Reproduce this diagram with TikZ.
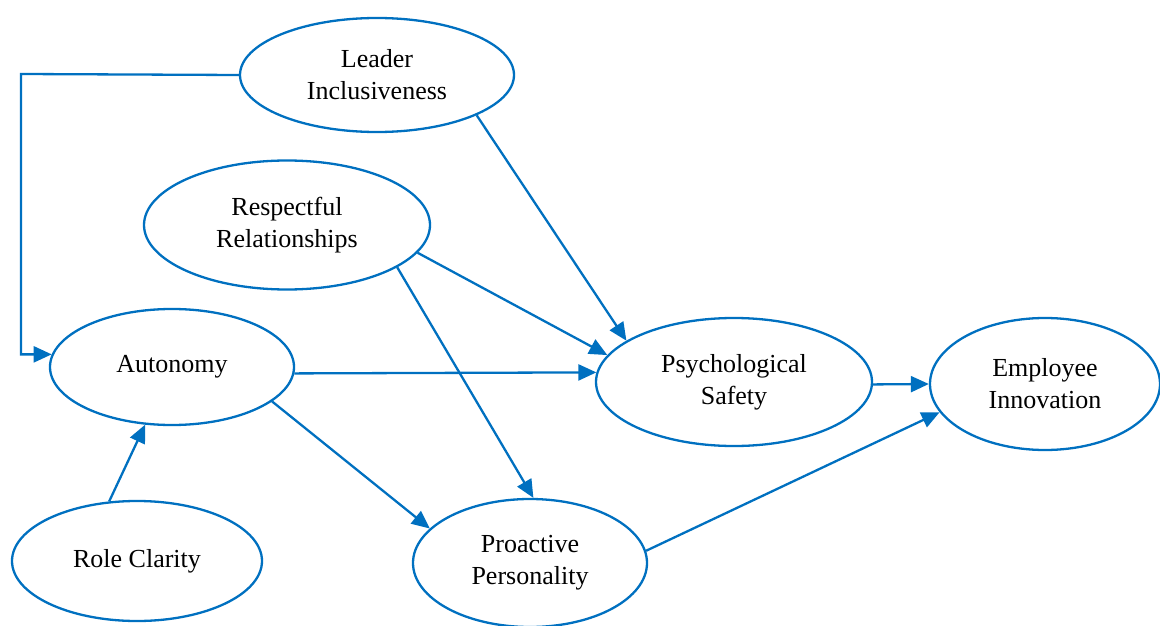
\documentclass[tikz,border=0pt]{standalone}
\usepackage{fontspec}
\setmainfont{Liberation Serif}
\usetikzlibrary{shapes.geometric,arrows.meta}
\definecolor{lineblue}{RGB}{0,112,192}

\begin{document}
\begin{tikzpicture}[x=1pt,y=-1pt,
        arr/.style={-{Triangle[length=18pt,width=16pt]},draw=lineblue,line width=2.3pt},
        font=\fontsize{26}{32}\selectfont]
        \useasboundingbox (0,0) rectangle (1160,626);
        \begin{scope}[every node/.style={ellipse,draw=lineblue,line width=2.3pt,inner sep=0pt,align=center,text=black}]
            \node (lead) [minimum width=274pt, minimum height=114pt] at (377, 75) {Leader\\Inclusiveness};
            \node (resp) [minimum width=286pt, minimum height=129pt] at (287, 225) {Respectful\\Relationships};
            \node (auto) [minimum width=244pt, minimum height=116pt] at (172, 367) {Autonomy};
            \node (role) [minimum width=250pt, minimum height=120pt] at (137, 561) {Role Clarity};
            \node (proa) [minimum width=234pt, minimum height=128pt] at (530, 563) {Proactive\\Personality};
            \node (psy) [minimum width=276pt, minimum height=128pt] at (734, 382) {Psychological\\Safety};
            \node (emp) [minimum width=230pt, minimum height=132pt] at (1045, 384) {Employee\\Innovation};
        \end{scope}
        \coordinate (elbow) at (21, 74);
        \draw [arr] (lead.west) -- (elbow) |- (auto.174);
        \path (lead.338) edge[arr] (psy.159);
        \path (resp.-12) edge[arr] (psy.168);
        \path (resp.339) edge[arr] (proa.87);
        \path (auto.-3) edge[arr] (psy.176.6);
        \path (auto.-19.6) edge[arr] (proa.161.9);
        \path (role.115.8) edge[arr] (auto.245);
        \path (psy.359) edge[arr] (emp.180.5);
        \path (proa.6) edge[arr] (emp.195.3);
    \end{tikzpicture}
\end{document}
